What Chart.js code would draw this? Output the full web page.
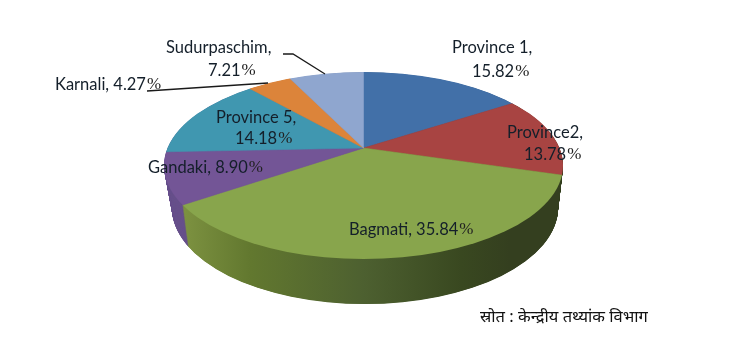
<!DOCTYPE html>
<html>
<head>
<meta charset="utf-8">
<script src="https://cdn.jsdelivr.net/npm/chart.js@4"></script>
<style>
  html, body { margin: 0; padding: 0; background: #fff; }
  canvas { display: block; filter: blur(0.4px); }
</style>
</head>
<body>
<canvas id="pieChart" width="750" height="356"></canvas>
<script>
const categories = ['Province 1', 'Province2', 'Bagmati', 'Gandaki', 'Province 5', 'Karnali', 'Sudurpaschim'];
const shares = [15.82, 13.78, 35.84, 8.90, 14.18, 4.27, 7.21];
const sliceColors = ['#4270a8', '#a84442', '#88a54c', '#735596', '#4097b0', '#dc843a', '#8fa6cf'];
const wallColors = ['#2a4a70', '#343f1f', null, '#68518c', '#68518c', '#96582a', '#64759a'];
const sourceNote = 'स्रोत : केन्द्रीय तथ्यांक विभाग';

// where each label starts: [x, y] per line, second line holds the value when there are two
const labelSpots = [
  [[452, 48], [472, 72]],
  [[507, 133], [524, 155]],
  [[349, 230]],
  [[148, 168]],
  [[216, 118], [235, 139]],
  [[55, 85]],
  [[166, 48], [208, 71]]
];

// the tilted pie: slices fan out from the apex, the rim is an ellipse that sits lower
const apex = { x: 363.5, y: 148 };
const tilt = 0.46;
const pieScale = 1.5;
const rimTop = { x: 363.5, y: 165.5, rx: 199.5, ry: 93.5 };
const rimBottom = { x: 365, y: 208, rx: 193, ry: 96 };
const wallDrop = 43;
const wallSteps = 120;

function placePie(ctx, arc, drop) {
  ctx.translate(apex.x, apex.y + drop);
  ctx.scale(pieScale, pieScale * tilt);
  ctx.translate(-arc.x, -arc.y);
}

function clipRim(ctx, t) {
  const lerp = (a, b) => a + (b - a) * t;
  ctx.beginPath();
  ctx.ellipse(lerp(rimTop.x, rimBottom.x), lerp(rimTop.y, rimBottom.y),
    lerp(rimTop.rx, rimBottom.rx), lerp(rimTop.ry, rimBottom.ry), 0, 0, Math.PI * 2);
  ctx.clip();
}

function toArcX(arc, px) {
  return arc.x + (px - apex.x) / pieScale;
}

const tiltedPie = {
  id: 'tiltedPie',
  beforeDatasetDraw(chart) {
    const ctx = chart.ctx;
    const arcs = chart.getDatasetMeta(0).data;

    // side wall first, stacked copies of the slices from the bottom up
    for (let s = wallSteps; s > 0; s--) {
      const t = s / wallSteps;
      ctx.save();
      clipRim(ctx, t);
      placePie(ctx, arcs[0], wallDrop * t);
      arcs.forEach((arc, i) => {
        let fill = wallColors[i];
        if (!fill) {
          fill = ctx.createLinearGradient(toArcX(arc, 185), 0, toArcX(arc, 510), 0);
          fill.addColorStop(0, '#7c9140');
          fill.addColorStop(0.2, '#62782f');
          fill.addColorStop(0.55, '#4d6030');
          fill.addColorStop(0.85, '#394820');
          fill.addColorStop(1, '#343f1f');
        }
        const opts = arc.options;
        arc.options = { ...opts, backgroundColor: fill, borderColor: fill, borderWidth: 0.5 };
        arc.draw(ctx);
        arc.options = opts;
      });
      ctx.restore();
    }

    // the library then draws the top face inside this transform
    ctx.save();
    clipRim(ctx, 0);
    placePie(ctx, arcs[0], 0);
  },
  afterDatasetDraw(chart) {
    chart.ctx.restore();
  },
  afterDraw(chart) {
    const ctx = chart.ctx;
    ctx.save();

    // leader lines
    ctx.strokeStyle = '#1a1a1a';
    ctx.lineWidth = 1.3;
    ctx.beginPath();
    ctx.moveTo(283, 54);
    ctx.lineTo(293, 54);
    ctx.lineTo(325, 74);
    ctx.moveTo(147, 91);
    ctx.lineTo(268, 83);
    ctx.stroke();

    ctx.textBaseline = 'middle';
    ctx.textAlign = 'left';
    categories.forEach((name, i) => {
      const spots = labelSpots[i];
      const value = shares[i].toFixed(2);
      ctx.fillStyle = '#141f2a';
      ctx.font = '16.5px Lato';
      let end;
      if (spots.length === 2) {
        ctx.fillText(name + ',', spots[0][0], spots[0][1]);
        ctx.fillText(value, spots[1][0], spots[1][1]);
        end = spots[1][0] + ctx.measureText(value).width;
        drawPercent(ctx, end, spots[1][1]);
      } else {
        const line = name + ', ' + value;
        ctx.fillText(line, spots[0][0], spots[0][1]);
        end = spots[0][0] + ctx.measureText(line).width;
        drawPercent(ctx, end, spots[0][1]);
      }
    });

    ctx.fillStyle = '#111';
    ctx.font = '16.5px "Noto Sans", "Liberation Serif", serif';
    ctx.fillText(sourceNote, 480, 317);
    ctx.restore();
  }
};

function drawPercent(ctx, x, y) {
  ctx.save();
  ctx.font = '17px "Liberation Serif"';
  ctx.fillStyle = '#222';
  ctx.fillText('%', x + 1, y);
  ctx.restore();
}

new Chart(document.getElementById('pieChart'), {
  type: 'pie',
  data: {
    labels: categories,
    datasets: [{
      data: shares,
      backgroundColor: sliceColors,
      borderColor: sliceColors,
      borderWidth: 0.5,
      clip: false
    }]
  },
  options: {
    responsive: false,
    animation: false,
    radius: 170,
    plugins: {
      legend: { display: false },
      tooltip: { enabled: false }
    }
  },
  plugins: [tiltedPie]
});
</script>
</body>
</html>
